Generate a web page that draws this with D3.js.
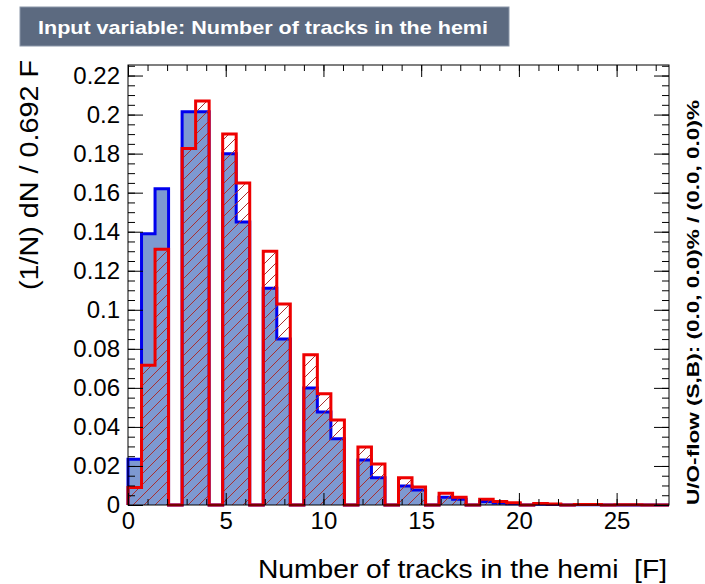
<!DOCTYPE html>
<html>
<head>
<meta charset="utf-8">
<script src="https://cdn.jsdelivr.net/npm/d3@7"></script>
<style>
  body { margin: 0; background: #fff; }
  text { font-family: "Liberation Sans", Arial, Helvetica, sans-serif; }
</style>
</head>
<body>
<script>
// histogram binning: 40 bins of 0.692 F
const binWidth = 0.692;
const nBins = 40;

// normalised contents (1/N dN)
const signal = [0.0235, 0.139, 0.162, 0, 0.2015, 0.2015, 0, 0.180, 0.145, 0,
                0.111, 0.085, 0, 0.060, 0.0476, 0.034, 0, 0.023, 0.014, 0,
                0.0097, 0.0077, 0, 0.004, 0.003, 0, 0.0018, 0.001, 0.0006, 0,
                0.0004, 0.0002, 0, 0.0001, 0.0001, 0, 0, 0, 0, 0];
const background = [0.009, 0.0716, 0.131, 0, 0.1826, 0.207, 0, 0.190, 0.165, 0,
                    0.130, 0.103, 0, 0.077, 0.057, 0.0435, 0, 0.0297, 0.021, 0,
                    0.014, 0.0092, 0, 0.006, 0.004, 0, 0.003, 0.0018, 0.0012, 0,
                    0.0008, 0.0005, 0, 0.0003, 0.0002, 0, 0.0001, 0.0001, 0, 0];

const xTicks = [0, 5, 10, 15, 20, 25];
const yTicks = [0, 0.02, 0.04, 0.06, 0.08, 0.1, 0.12, 0.14, 0.16, 0.18, 0.2, 0.22];

const titleText = "Input variable: Number of tracks in the hemi";
const xTitle = "Number of tracks in the hemi\u00a0\u00a0[F]";
const yTitle = "(1/N) dN / 0.692 F";
const flowText = "U/O-flow (S,B): (0.0, 0.0)% / (0.0, 0.0)%";

const W = 705, H = 584;
const frame = {left: 128, right: 669, top: 65, bottom: 505};
const tickFont = "24px";

let svg = d3.select("body").append("svg")
            .attr("width", W).attr("height", H);

let x = d3.scaleLinear().domain([0, nBins * binWidth]).range([frame.left, frame.right]);
let y = d3.scaleLinear().domain([0, 0.2254]).range([frame.bottom, frame.top]);

// hatch pattern for background
let defs = svg.append("defs");
defs.append("pattern")
    .attr("id", "hatch")
    .attr("patternUnits", "userSpaceOnUse")
    .attr("width", 11).attr("height", 11)
    .append("path")
    .attr("d", "M-2,2 l4,-4 M0,11 l11,-11 M9,13 l4,-4")
    .attr("stroke", "#a83030")
    .attr("stroke-width", 1);

// title box
svg.append("rect")
   .attr("x", 20).attr("y", 7).attr("width", 489).attr("height", 39)
   .attr("fill", "#5c6a80").attr("stroke", "#8a96a8").attr("stroke-width", 1);
svg.append("text")
   .attr("x", 38).attr("y", 34)
   .attr("fill", "#fff")
   .attr("textLength", 450)
   .attr("lengthAdjust", "spacingAndGlyphs")
   .style("font-weight", "bold")
   .style("font-size", "19px")
   .text(titleText);

// step outline of a histogram
function stepPoints(vals) {
    let pts = [[x(0), y(0)]];
    vals.forEach((v, i) => {
        pts.push([x(i * binWidth), y(v)]);
        pts.push([x((i + 1) * binWidth), y(v)]);
    });
    pts.push([x(nBins * binWidth), y(0)]);
    return pts;
}
let line = d3.line();

let plot = svg.append("g");
plot.append("path")
    .attr("d", line(stepPoints(signal)))
    .attr("fill", "#7d99d1")
    .attr("stroke", "#0000ee")
    .attr("stroke-width", 3);
plot.append("path")
    .attr("d", line(stepPoints(background)))
    .attr("fill", "url(#hatch)")
    .attr("stroke", "#ee0000")
    .attr("stroke-width", 3);

// frame
svg.append("rect")
   .attr("x", frame.left).attr("y", frame.top)
   .attr("width", frame.right - frame.left).attr("height", frame.bottom - frame.top)
   .attr("fill", "none").attr("stroke", "#000").attr("stroke-width", 1);

// axes (ticks inside the frame, ROOT style)
const xMinor = d3.range(0, 28, 1);
const yMinor = d3.range(0, 0.2254, 0.005);
const noDomain = g => g.select(".domain").remove();

svg.append("g")
   .attr("transform", `translate(0,${frame.bottom})`)
   .call(d3.axisTop(x).tickValues(xMinor).tickSize(6).tickFormat(""))
   .call(noDomain);
svg.append("g")
   .attr("transform", `translate(0,${frame.bottom})`)
   .call(d3.axisTop(x).tickValues(xTicks).tickSize(12).tickFormat(""))
   .call(noDomain);
svg.append("g")
   .attr("transform", `translate(0,${frame.bottom})`)
   .call(d3.axisBottom(x).tickValues(xTicks).tickSize(0).tickPadding(7).tickFormat(d3.format("d")))
   .call(noDomain)
   .selectAll("text").style("font-size", tickFont).attr("fill", "#000")
   .style("font-family", "'Liberation Sans', Arial, sans-serif");

svg.append("g")
   .attr("transform", `translate(0,${frame.top})`)
   .call(d3.axisBottom(x).tickValues(xMinor).tickSize(6).tickFormat(""))
   .call(noDomain);
svg.append("g")
   .attr("transform", `translate(0,${frame.top})`)
   .call(d3.axisBottom(x).tickValues(xTicks).tickSize(12).tickFormat(""))
   .call(noDomain);

svg.append("g")
   .attr("transform", `translate(${frame.left},0)`)
   .call(d3.axisRight(y).tickValues(yMinor).tickSize(7).tickFormat(""))
   .call(noDomain);
svg.append("g")
   .attr("transform", `translate(${frame.left},0)`)
   .call(d3.axisRight(y).tickValues(yTicks).tickSize(15).tickFormat(""))
   .call(noDomain);
svg.append("g")
   .attr("transform", `translate(${frame.left},0)`)
   .call(d3.axisLeft(y).tickValues(yTicks).tickSize(0).tickPadding(8).tickFormat(d3.format("~g")))
   .call(noDomain)
   .selectAll("text").style("font-size", tickFont).attr("fill", "#000")
   .style("font-family", "'Liberation Sans', Arial, sans-serif");

svg.append("g")
   .attr("transform", `translate(${frame.right},0)`)
   .call(d3.axisLeft(y).tickValues(yMinor).tickSize(7).tickFormat(""))
   .call(noDomain);
svg.append("g")
   .attr("transform", `translate(${frame.right},0)`)
   .call(d3.axisLeft(y).tickValues(yTicks).tickSize(15).tickFormat(""))
   .call(noDomain);

// axis titles
svg.append("text")
   .attr("x", 258).attr("y", 578)
   .attr("textLength", 409)
   .attr("lengthAdjust", "spacingAndGlyphs")
   .style("font-size", "26px")
   .text(xTitle);
svg.append("text")
   .attr("transform", `translate(38,290) rotate(-90)`)
   .attr("textLength", 230)
   .attr("lengthAdjust", "spacingAndGlyphs")
   .style("font-size", "26px")
   .text(yTitle);

// under/overflow note
svg.append("text")
   .attr("transform", `translate(699,${frame.bottom}) rotate(-90)`)
   .attr("textLength", 405)
   .attr("lengthAdjust", "spacingAndGlyphs")
   .style("font-size", "17px")
   .style("font-weight", "bold")
   .text(flowText);
</script>
</body>
</html>
